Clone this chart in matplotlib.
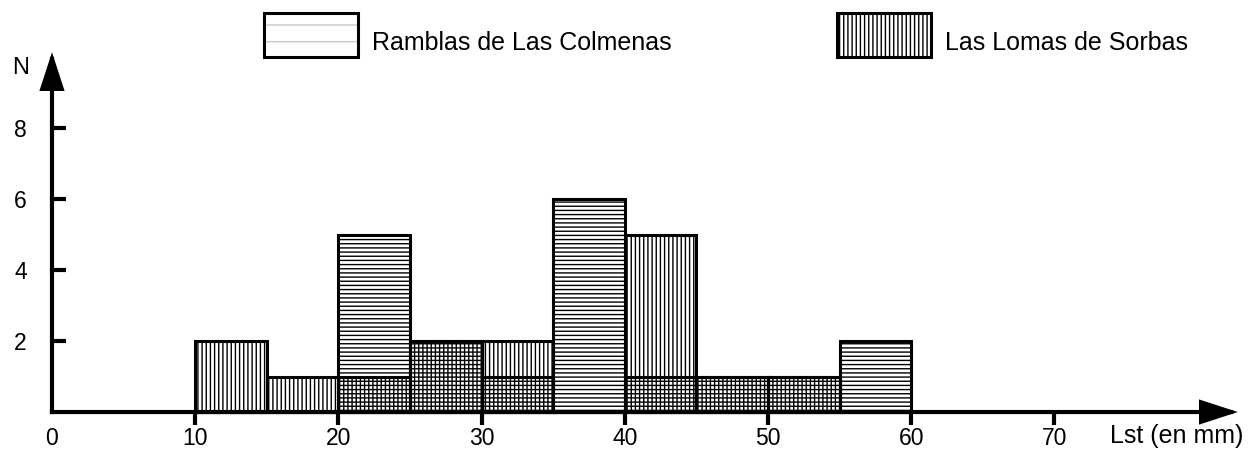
import numpy as np
import matplotlib.pyplot as plt
from matplotlib.patches import Rectangle

plt.rcParams['font.family'] = ['Liberation Sans', 'DejaVu Sans']
plt.rcParams['hatch.linewidth'] = 1.0

# histogram data: bins of 5 mm starting at 10 mm
bin_left = np.arange(10, 60, 5)
ramblas = [0, 0, 5, 2, 1, 6, 1, 1, 1, 2]
lomas = [2, 1, 1, 2, 2, 0, 5, 1, 1, 0]
xticks = [0, 10, 20, 30, 40, 50, 60, 70]
yticks = [2, 4, 6, 8]
labels = ['Ramblas de Las Colmenas', 'Las Lomas de Sorbas']
hatches = ['----', '||||']

W, H = 1255, 450
fig = plt.figure(figsize=(W / 100, H / 100), dpi=100)
ax = fig.add_axes([0, 0, 1, 1])
ax.set_xlim(-3.63, 84.0)
ax.set_ylim(-1.07, 11.61)

for vals, h in zip([ramblas, lomas], hatches):
    ax.bar(bin_left, vals, width=5, align='edge', facecolor='none',
           edgecolor='black', linewidth=2.2, hatch=h)

# axes drawn as arrows through the origin
for s in ax.spines.values():
    s.set_visible(False)
ax.spines['left'].set_position(('data', 0))
ax.spines['bottom'].set_position(('data', 0))
arrow = dict(arrowstyle='-|>,head_length=0.4,head_width=0.13', lw=3,
             color='black', mutation_scale=54, shrinkA=0, shrinkB=0,
             capstyle='projecting', joinstyle='miter')
ax.annotate('', xy=(82.8, 0), xytext=(0, 0), arrowprops=arrow,
            annotation_clip=False)
ax.annotate('', xy=(0, 10.14), xytext=(0, 0), arrowprops=arrow,
            annotation_clip=False)

ax.set_xticks(xticks)
ax.set_yticks(yticks)
ax.tick_params(axis='x', direction='out', length=9, width=3,
               labelsize=16.5, pad=2)
ax.tick_params(axis='y', direction='in', length=10, width=3,
               labelsize=16.5, pad=18)
ax.xaxis.get_major_ticks()[0].tick1line.set_visible(False)

ax.set_ylabel('N', rotation=0, fontsize=17, ha='center', va='center')
ax.yaxis.set_label_coords(21 / W, 1 - 68 / H)
ax.set_xlabel('Lst (en mm)', fontsize=18, ha='left', va='baseline')
ax.xaxis.set_label_coords(1110 / W, 1 - 443 / H)

# legend boxes along the top
box_x = [264, 837]
box_hatch = ['-', '||||']
box_hatch_color = ['#c8c8c8', 'black']
for bx, lab, h, hc in zip(box_x, labels, box_hatch, box_hatch_color):
    ax.add_patch(Rectangle((bx / W, 1 - 57 / H), 94 / W, 44 / H,
                           transform=ax.transAxes, facecolor='none',
                           edgecolor=hc, linewidth=0, hatch=h,
                           clip_on=False))
    ax.add_patch(Rectangle((bx / W, 1 - 57 / H), 94 / W, 44 / H,
                           transform=ax.transAxes, fill=False,
                           edgecolor='black', linewidth=2.2, clip_on=False))
    ax.text((bx + 108) / W, 1 - 50 / H, lab, transform=ax.transAxes,
            fontsize=18, ha='left', va='baseline')

fig.savefig('out.png', dpi=100)
